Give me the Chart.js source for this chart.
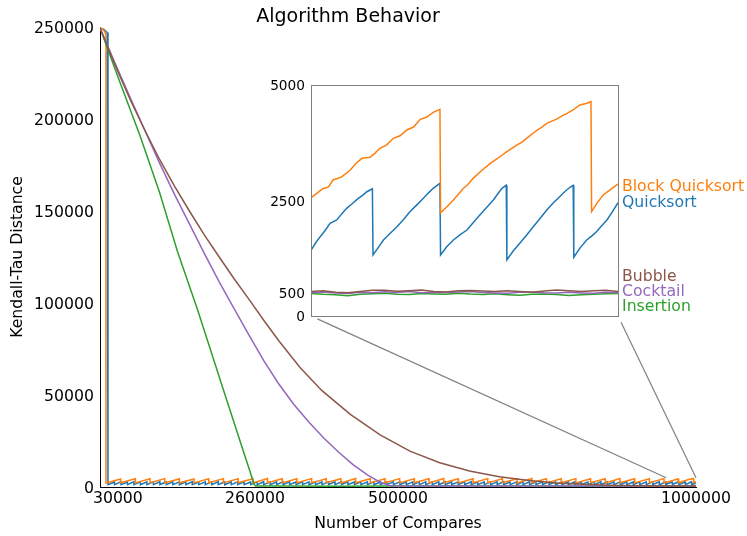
<!DOCTYPE html>
<html><head><meta charset="utf-8">
<script src="https://cdn.jsdelivr.net/npm/chart.js@4.4.0/dist/chart.umd.min.js"></script>
<style>
html,body{margin:0;padding:0;background:#fff;}
#wrap{position:relative;width:747px;height:536px;background:#fff;}
canvas{position:absolute;left:0;top:0;}
</style></head><body>
<div id="wrap"><canvas id="main" width="747" height="536"></canvas><canvas id="inset" width="747" height="536"></canvas></div>
<script>
// ---------- text ----------
const chartTitle = "Algorithm Behavior";
const xTitle = "Number of Compares";
const yTitle = "Kendall-Tau Distance";
const seriesNames = ["Quicksort", "Block Quicksort", "Insertion", "Cocktail", "Bubble"];
const seriesColors = ["#1f77b4", "#ff7f0e", "#2ca02c", "#9467bd", "#8c564b"];

// ---------- ticks ----------
const xTickValues = [30000, 260000, 500000, 1000000];
const yTickValues = [0, 50000, 100000, 150000, 200000, 250000];
const insetYTickValues = [0, 500, 2500, 5000];
const insetXRange = [950000, 1000000];
const insetYRange = [0, 5000];

// ---------- data (x, y pairs) ----------
const quicksortPts = [
 0,249400, 6000,248800, 12000,247000, 13400,246000, 13400,1300,
 24300,2750, 24300,1300, 35200,2800, 35200,1250, 46000,2720, 46000,1320, 56900,2850, 56900,1280,
 67800,2780, 67800,1220, 78700,2820, 78700,1300, 89600,2760, 89600,1270, 100500,2870, 100500,1330,
 111300,2740, 111300,1250, 122200,2800, 122200,1290, 133100,2830, 133100,1210, 144000,2770, 144000,1300,
 154900,2850, 154900,1260, 165700,2720, 165700,1320, 176600,2810, 176600,1240, 187500,2790, 187500,1300,
 198400,2860, 198400,1280, 209300,2750, 209300,1220, 220200,2820, 220200,1310, 231000,2780, 231000,1260,
 241900,2840, 241900,1300, 252800,2730, 252800,1240, 263700,2800, 263700,1320, 274600,2870, 274600,1270,
 285500,2760, 285500,1230, 296300,2810, 296300,1300, 307200,2790, 307200,1260, 318100,2850, 318100,1310,
 329000,2740, 329000,1250, 339900,2820, 339900,1290, 350700,2780, 350700,1220, 361600,2860, 361600,1300,
 372500,2750, 372500,1270, 383400,2800, 383400,1330, 394300,2830, 394300,1240, 405200,2770, 405200,1300,
 416000,2850, 416000,1260, 426900,2720, 426900,1310, 437800,2810, 437800,1250, 448700,2790, 448700,1290,
 459600,2860, 459600,1230, 470400,2750, 470400,1300, 481300,2820, 481300,1270, 492200,2780, 492200,1320,
 503100,2840, 503100,1250, 514000,2730, 514000,1290, 524900,2800, 524900,1220, 535700,2870, 535700,1300,
 546600,2760, 546600,1260, 557500,2810, 557500,1310, 568400,2790, 568400,1240, 579300,2850, 579300,1300,
 590100,2740, 590100,1270, 601000,2820, 601000,1330, 611900,2780, 611900,1250, 622800,2860, 622800,1290,
 633700,2750, 633700,1220, 644600,2800, 644600,1300, 655400,2830, 655400,1260, 666300,2770, 666300,1310,
 677200,2850, 677200,1250, 688100,2720, 688100,1290, 699000,2810, 699000,1230, 709800,2790, 709800,1300,
 720700,2860, 720700,1270, 731600,2750, 731600,1320, 742500,2820, 742500,1250, 753400,2780, 753400,1290,
 764300,2840, 764300,1220, 775100,2730, 775100,1300, 786000,2800, 786000,1260, 796900,2870, 796900,1310,
 807800,2760, 807800,1240, 818700,2810, 818700,1300, 829600,2790, 829600,1270, 840400,2850, 840400,1330,
 851300,2740, 851300,1250, 862200,2820, 862200,1290, 873100,2780, 873100,1220, 884000,2860, 884000,1300,
 894800,2750, 894800,1260, 905700,2800, 905700,1310, 916600,2830, 916600,1250, 927500,2770, 927500,1290,
 938400,2850, 938400,1230, 949300,2760, 949300,1300,
 950100,1443, 950800,1590, 951500,1717, 952300,1850, 953100,2006, 954200,2078, 955000,2210, 955800,2331,
 956700,2430, 957700,2547, 958400,2610, 959100,2690, 960000,2755,
 960100,1320, 961000,1490, 961800,1645, 962900,1790, 964000,1933, 965000,2080, 966100,2258, 967200,2400,
 968300,2547, 969100,2660, 969900,2764, 971000,2872,
 971100,1320, 972100,1500, 973200,1645, 974300,1760, 975400,1861, 976400,2020, 977500,2186, 978600,2350,
 979700,2511, 980400,2640, 981100,2764, 981800,2829,
 981900,1212, 982900,1400, 984000,1574, 985100,1750, 986200,1933, 987300,2110, 988400,2294, 989400,2440,
 990500,2582, 991400,2700, 992200,2786, 992700,2829,
 992800,1271, 993800,1470, 994900,1645, 995700,1730, 996500,1825, 997300,1950, 998200,2078, 999100,2260,
 1000000,2452
];
const blockQuicksortPts = [
 0,249600, 4000,249000, 8000,247500, 10000,246000, 10000,2200,
 34600,4400, 34600,2300, 59300,4500, 59300,2250, 83900,4450, 83900,2300, 108600,4550, 108600,2200,
 133200,4500, 133200,2300, 157800,4400, 157800,2250, 182500,4500, 182500,2350, 207100,4550, 207100,2250,
 231800,4450, 231800,2300, 256400,4500, 256400,2200, 281000,4600, 281000,2300, 305700,4450, 305700,2250,
 330300,4500, 330300,2350, 355000,4550, 355000,2250, 379600,4450, 379600,2300, 404200,4500, 404200,2200,
 428900,4600, 428900,2300, 453500,4450, 453500,2250, 478200,4500, 478200,2300, 502800,4550, 502800,2250,
 527400,4450, 527400,2300, 552100,4500, 552100,2200, 576700,4600, 576700,2300, 601400,4450, 601400,2250,
 626000,4500, 626000,2350, 650600,4550, 650600,2250, 675300,4450, 675300,2300, 699900,4500, 699900,2200,
 724600,4600, 724600,2300, 749200,4450, 749200,2250, 773800,4500, 773800,2300, 798500,4550, 798500,2250,
 823100,4450, 823100,2300, 847800,4500, 847800,2200, 872400,4600, 872400,2300, 897000,4450, 897000,2250,
 921700,4500, 921700,2300, 946300,4550, 946300,2250,
 950100,2570, 951200,2680, 952000,2760, 952800,2790, 953600,2944, 955000,3010, 956400,3160, 957300,3300,
 958300,3413, 959600,3435, 960400,3520, 961200,3630, 962300,3700, 963400,3846, 964500,3900, 965600,4026,
 966700,4090, 967800,4258, 968800,4300, 969900,4409, 971000,4474,
 971100,2236, 972100,2360, 973200,2511, 974800,2760, 975600,2850, 976400,2980, 977800,3150, 979200,3305,
 980500,3420, 981900,3556, 983500,3700, 984300,3760, 985100,3846, 986800,4020, 987600,4090, 988400,4171,
 990000,4260, 990900,4330, 991700,4387, 992800,4470, 993800,4567, 994800,4600, 995600,4639,
 995700,2258, 996600,2450, 997600,2619, 998800,2740, 1000000,2857
];
const insertionPts = [
 0,249500, 30000,223000, 67000,191000, 100000,160000, 130000,128000, 163000,97000, 212600,47300,
 240000,20000, 259000,1200, 261000,500,
 300000,500, 400000,470, 500000,510, 600000,480, 700000,495, 800000,470, 900000,490,
 950000,485, 952000,470, 954000,462, 956000,440, 958000,470, 960000,482, 962000,490, 964000,472,
 966000,468, 968000,485, 970000,478, 972000,470, 974000,490, 976000,475, 978000,468, 980000,480,
 982000,462, 984000,448, 986000,470, 988000,478, 990000,465, 992000,445, 994000,458, 996000,472,
 998000,480, 1000000,488
];
const cocktailPts = [
 0,249500, 25000,230500, 50000,212000, 75000,194000, 100000,176000, 125000,159000, 150000,143000,
 175000,127000, 200000,111500, 225000,97000, 250000,82500, 275000,68500, 300000,56000, 325000,45000,
 350000,35500, 375000,26800, 400000,19000, 425000,12000, 450000,6300, 470000,2600, 485000,800,
 495000,520, 600000,500, 700000,520, 800000,495, 900000,510,
 950000,505, 952000,520, 954000,498, 956000,488, 958000,512, 960000,505, 962000,525, 964000,510,
 966000,530, 968000,502, 970000,515, 972000,508, 974000,522, 976000,528, 978000,510, 980000,500,
 982000,495, 984000,515, 986000,522, 988000,505, 990000,498, 992000,512, 994000,500, 996000,490,
 998000,515, 1000000,505
];
const bubblePts = [
 0,249500, 25000,229500, 50000,211000, 75000,194000, 100000,178000, 125000,163500, 150000,150000,
 175000,137000, 200000,125000, 225000,113200, 250000,102000, 275000,90500, 300000,79500,
 335600,65000, 372000,52500, 420000,39500, 470000,28300, 520000,19500, 570000,13200, 620000,8700,
 670000,5600, 720000,3500, 770000,2100, 820000,1300, 870000,850, 920000,620,
 950000,530, 952000,548, 954000,515, 956000,505, 958000,532, 960000,555, 962000,560, 964000,538,
 966000,548, 968000,562, 970000,530, 972000,522, 974000,545, 976000,552, 978000,540, 980000,528,
 982000,545, 984000,532, 986000,515, 988000,540, 990000,565, 992000,548, 994000,530, 996000,545,
 998000,555, 1000000,530
];
const seriesPts = [quicksortPts, blockQuicksortPts, insertionPts, cocktailPts, bubblePts];

// ---------- style ----------
const FONT = "DejaVu Sans";
const drawOrder = [5, 4, 3, 2, 1];            // lower = drawn on top
const insetLabelOffsetPx = [0, 3, 13, -1, -15]; // label nudges (px) to avoid overlap

function toXY(flat) {
  const out = [];
  for (let i = 0; i < flat.length; i += 2) out.push({x: flat[i], y: flat[i + 1]});
  return out;
}
function makeDatasets() {
  return seriesNames.map((name, i) => ({
    label: name,
    data: toXY(seriesPts[i]),
    borderColor: seriesColors[i],
    backgroundColor: seriesColors[i],
    borderWidth: 1.5,
    pointRadius: 0,
    tension: 0,
    fill: false,
    order: drawOrder[i]
  }));
}

Chart.defaults.font.family = FONT;
Chart.defaults.color = "#000";

const mainChart = new Chart(document.getElementById("main"), {
  type: "line",
  data: {datasets: makeDatasets()},
  options: {
    responsive: false, animation: false, devicePixelRatio: 1,
    layout: {padding: {left: 0, right: 51, top: 0, bottom: 0}},
    plugins: {
      legend: {display: false}, tooltip: {enabled: false},
      title: {display: true, text: chartTitle, color: "#000",
              font: {size: 19, weight: "normal", lineHeight: 1}, padding: {top: 8, bottom: 0}}
    },
    scales: {
      x: {
        type: "linear", min: 0, max: 1000000,
        afterBuildTicks: s => { s.ticks = xTickValues.map(v => ({value: v})); },
        afterFit: s => { s.height = 49; },
        grid: {display: false, drawTicks: false},
        border: {display: true, color: "#000", width: 1},
        ticks: {font: {size: 15.7}, color: "#000", padding: 3, maxRotation: 0, autoSkip: false,
                callback: v => String(v)},
        title: {display: true, text: xTitle, color: "#000", font: {size: 15.7, lineHeight: 1.2},
                padding: {top: 0, bottom: 3}}
      },
      y: {
        type: "linear", min: 0, max: 250000,
        afterBuildTicks: s => { s.ticks = yTickValues.map(v => ({value: v})); },
        afterFit: s => { s.width = 100; },
        grid: {display: false, drawTicks: false},
        border: {display: true, color: "#000", width: 1},
        ticks: {font: {size: 15.7}, color: "#000", padding: 6, labelOffset: 2, callback: v => String(v)},
        title: {display: true, text: yTitle, color: "#000", font: {size: 15.7, lineHeight: 1.2},
                padding: {top: 9, bottom: 0}}
      }
    }
  }
});

const insetDecor = {
  id: "insetDecor",
  beforeDatasetsDraw(chart) {
    const {ctx, chartArea: a} = chart;
    ctx.save();
    ctx.fillStyle = "#fff";
    ctx.fillRect(a.left, a.top, a.right - a.left, a.bottom - a.top);
    ctx.restore();
  },
  afterDraw(chart) {
    const {ctx, chartArea: a, scales} = chart;
    ctx.save();
    ctx.strokeStyle = "#808080"; ctx.lineWidth = 1;
    ctx.strokeRect(Math.round(a.left) + 0.5, Math.round(a.top) + 0.5,
                   Math.round(a.right - a.left), Math.round(a.bottom - a.top));
    const mx = mainChart.scales.x, my = mainChart.scales.y;
    const pairs = [
      [a.left, a.bottom, mx.getPixelForValue(insetXRange[0]), my.getPixelForValue(insetYRange[1])],
      [a.right, a.bottom, mx.getPixelForValue(insetXRange[1]), my.getPixelForValue(insetYRange[1])]
    ];
    ctx.strokeStyle = "#808080"; ctx.lineWidth = 1.2;
    pairs.forEach(([x0, y0, x1, y1]) => {
      const dx = x1 - x0, dy = y1 - y0, L = Math.hypot(dx, dy), g = 7;
      ctx.beginPath();
      ctx.moveTo(x0 + dx / L * g, y0 + dy / L * g);
      ctx.lineTo(x1, y1);
      ctx.stroke();
    });
    ctx.font = "15.7px " + FONT;
    ctx.textAlign = "left"; ctx.textBaseline = "middle";
    chart.data.datasets.forEach((ds, i) => {
      const last = ds.data[ds.data.length - 1];
      const y = scales.y.getPixelForValue(last.y) + insetLabelOffsetPx[i];
      ctx.fillStyle = seriesColors[i];
      ctx.fillText(seriesNames[i], a.right + 4, y);
    });
    ctx.restore();
  }
};

const insetChart = new Chart(document.getElementById("inset"), {
  type: "line",
  data: {datasets: makeDatasets()},
  options: {
    responsive: false, animation: false, devicePixelRatio: 1,
    layout: {padding: {left: 261, right: 129, top: 85, bottom: 220}},
    plugins: {legend: {display: false}, tooltip: {enabled: false}, title: {display: false}},
    scales: {
      x: {type: "linear", min: insetXRange[0], max: insetXRange[1], display: false},
      y: {
        type: "linear", min: insetYRange[0], max: insetYRange[1],
        afterBuildTicks: s => { s.ticks = insetYTickValues.map(v => ({value: v})); },
        afterFit: s => { s.width = 50; },
        grid: {display: false, drawTicks: false},
        border: {display: false},
        ticks: {font: {size: 13.7}, color: "#000", padding: 6, labelOffset: 1.5, callback: v => String(v)}
      }
    }
  },
  plugins: [insetDecor]
});
</script>
</body></html>
